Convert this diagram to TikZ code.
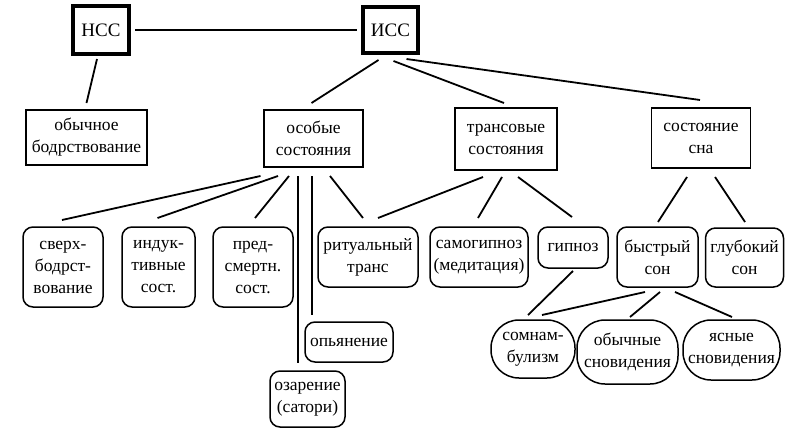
\documentclass[tikz,border=0pt]{standalone}
\usepackage{fontspec}
\setmainfont{Liberation Serif}
\usepackage{tikz}
\newcommand{\boxline}{1.5pt}
\tikzstyle{state}=[draw, line width=\boxline, align=center, inner sep=0, outer sep=0,
                   font=\fontsize{17.5}{22}\selectfont]
\tikzstyle{mainstate}=[state, line width=3.2pt, font=\fontsize{19}{22}\selectfont]
\tikzstyle{groupstate}=[state]
\tikzstyle{leafstate}=[state, rounded corners=10pt]
\tikzstyle{ovalstate}=[state, rounded corners=28pt]
\tikzstyle{link}=[line width=1.8pt]

\begin{document}
\begin{tikzpicture}[x=1pt, y=-1pt]
        \useasboundingbox (0, 0) rectangle (792, 428);
        % top level
        \node[mainstate, minimum width=56pt, minimum height=48pt] (NSS) at (101, 30) {НСС};
        \node[mainstate, minimum width=55pt, minimum height=46pt] (ISS) at (390.5, 30) {ИСС};
        % groups
        \node[groupstate, minimum width=121pt, minimum height=55pt] (Ordinary) at (86.5, 137.5) {обычное\\бодрствование};
        \node[groupstate, minimum width=99pt, minimum height=57pt] (Special) at (313.5, 138.5) {особые\\состояния};
        \node[groupstate, minimum width=102pt, minimum height=62pt] (Trance) at (506, 139) {трансовые\\состояния};
        \node[groupstate, minimum width=99pt, minimum height=60pt] (Sleep) at (701, 138) {состояние\\сна};
        % leaves
        \node[leafstate, minimum width=80pt, minimum height=80pt] (Hyper) at (63, 267) {сверх-\\бодрст-\\вование};
        \node[leafstate, minimum width=73pt, minimum height=80pt] (Induced) at (158.5, 267) {индук-\\тивные\\сост.};
        \node[leafstate, minimum width=80pt, minimum height=80pt] (NearDeath) at (253, 267) {пред-\\смертн.\\сост.};
        \node[leafstate, minimum width=100pt, minimum height=60pt] (Ritual) at (368, 257) {ритуальный\\транс};
        \node[leafstate, minimum width=88pt, minimum height=40pt] (Drunk) at (349, 342) {опьянение};
        \node[leafstate, minimum width=75pt, minimum height=56pt] (Satori) at (307.5, 399) {озарение\\(сатори)};
        \node[leafstate, minimum width=98pt, minimum height=60pt] (SelfHyp) at (479, 257) {самогипноз\\(медитация)};
        \node[leafstate, minimum width=70pt, minimum height=41pt] (Hypnosis) at (573, 247.5) {гипноз};
        \node[leafstate, minimum width=81pt, minimum height=60pt] (REM) at (657.5, 257) {быстрый\\сон};
        \node[leafstate, minimum width=78pt, minimum height=59pt] (Deep) at (744.5, 257.5) {глубокий\\сон};
        \node[ovalstate, minimum width=84pt, minimum height=58pt] (Somnam) at (533, 349) {сомнам-\\булизм};
        \node[ovalstate, minimum width=101pt, minimum height=64pt] (Dreams) at (627.5, 352) {обычные\\сновидения};
        \node[ovalstate, minimum width=97pt, minimum height=60pt] (Lucid) at (731.5, 350) {ясные\\сновидения};
        % connectors
        \draw[link] ([xshift=6pt]NSS.east) -- ([xshift=-6pt]ISS.west);
        \draw[link] ([xshift=-4pt, yshift=-5pt]NSS.south) -- ([yshift=7pt]Ordinary.north);
        \draw[link] ([xshift=-12pt, yshift=-7pt]ISS.south) -- ([xshift=-2pt, yshift=7pt]Special.north);
        \draw[link] ([xshift=3pt, yshift=-8pt]ISS.south) -- ([xshift=-2pt, yshift=5pt]Trance.north);
        \draw[link] ([xshift=16pt, yshift=-6pt]ISS.south) -- ([xshift=-1pt, yshift=8pt]Sleep.north);
        \draw[link] ([xshift=-53pt, yshift=-9pt]Special.south) -- ([xshift=-1pt, yshift=7pt]Hyper.north);
        \draw[link] ([xshift=-35.5pt, yshift=-9pt]Special.south) -- ([xshift=-1pt, yshift=9pt]Induced.north);
        \draw[link] ([xshift=-24.5pt, yshift=-9pt]Special.south) -- ([xshift=2pt, yshift=9pt]NearDeath.north);
        \draw[link] ([xshift=-15.5pt, yshift=-9pt]Special.south) -- ([xshift=-9.5pt, yshift=8pt]Satori.north);
        \draw[link] ([xshift=-1.5pt, yshift=-9pt]Special.south) -- ([xshift=-37pt, yshift=7pt]Drunk.north);
        \draw[link] ([xshift=16.5pt, yshift=-9pt]Special.south) -- ([xshift=-5pt, yshift=9pt]Ritual.north);
        \draw[link] ([xshift=-23pt, yshift=-7pt]Trance.south) -- ([xshift=10pt, yshift=9pt]Ritual.north);
        \draw[link] ([xshift=-4pt, yshift=-7pt]Trance.south) -- ([xshift=-1pt, yshift=9pt]SelfHyp.north);
        \draw[link] ([xshift=12pt, yshift=-7pt]Trance.south) -- ([xshift=-1pt, yshift=10pt]Hypnosis.north);
        \draw[link] ([xshift=-14pt, yshift=-9pt]Sleep.south) -- ([xshift=0.5pt, yshift=5pt]REM.north);
        \draw[link] ([xshift=14pt, yshift=-9pt]Sleep.south) -- ([xshift=0.5pt, yshift=6pt]Deep.north);
        \draw[link] ([yshift=-3pt]Hypnosis.south) -- ([xshift=-5pt, yshift=5pt]Somnam.north);
        \draw[link] ([xshift=-12.5pt, yshift=-5pt]REM.south) -- ([xshift=9pt, yshift=5pt]Somnam.north);
        \draw[link] ([xshift=2.5pt, yshift=-5pt]REM.south) -- ([xshift=2.5pt, yshift=3pt]Dreams.north);
        \draw[link] ([xshift=17.5pt, yshift=-5pt]REM.south) -- ([xshift=0.5pt, yshift=3pt]Lucid.north);
    \end{tikzpicture}
\end{document}
